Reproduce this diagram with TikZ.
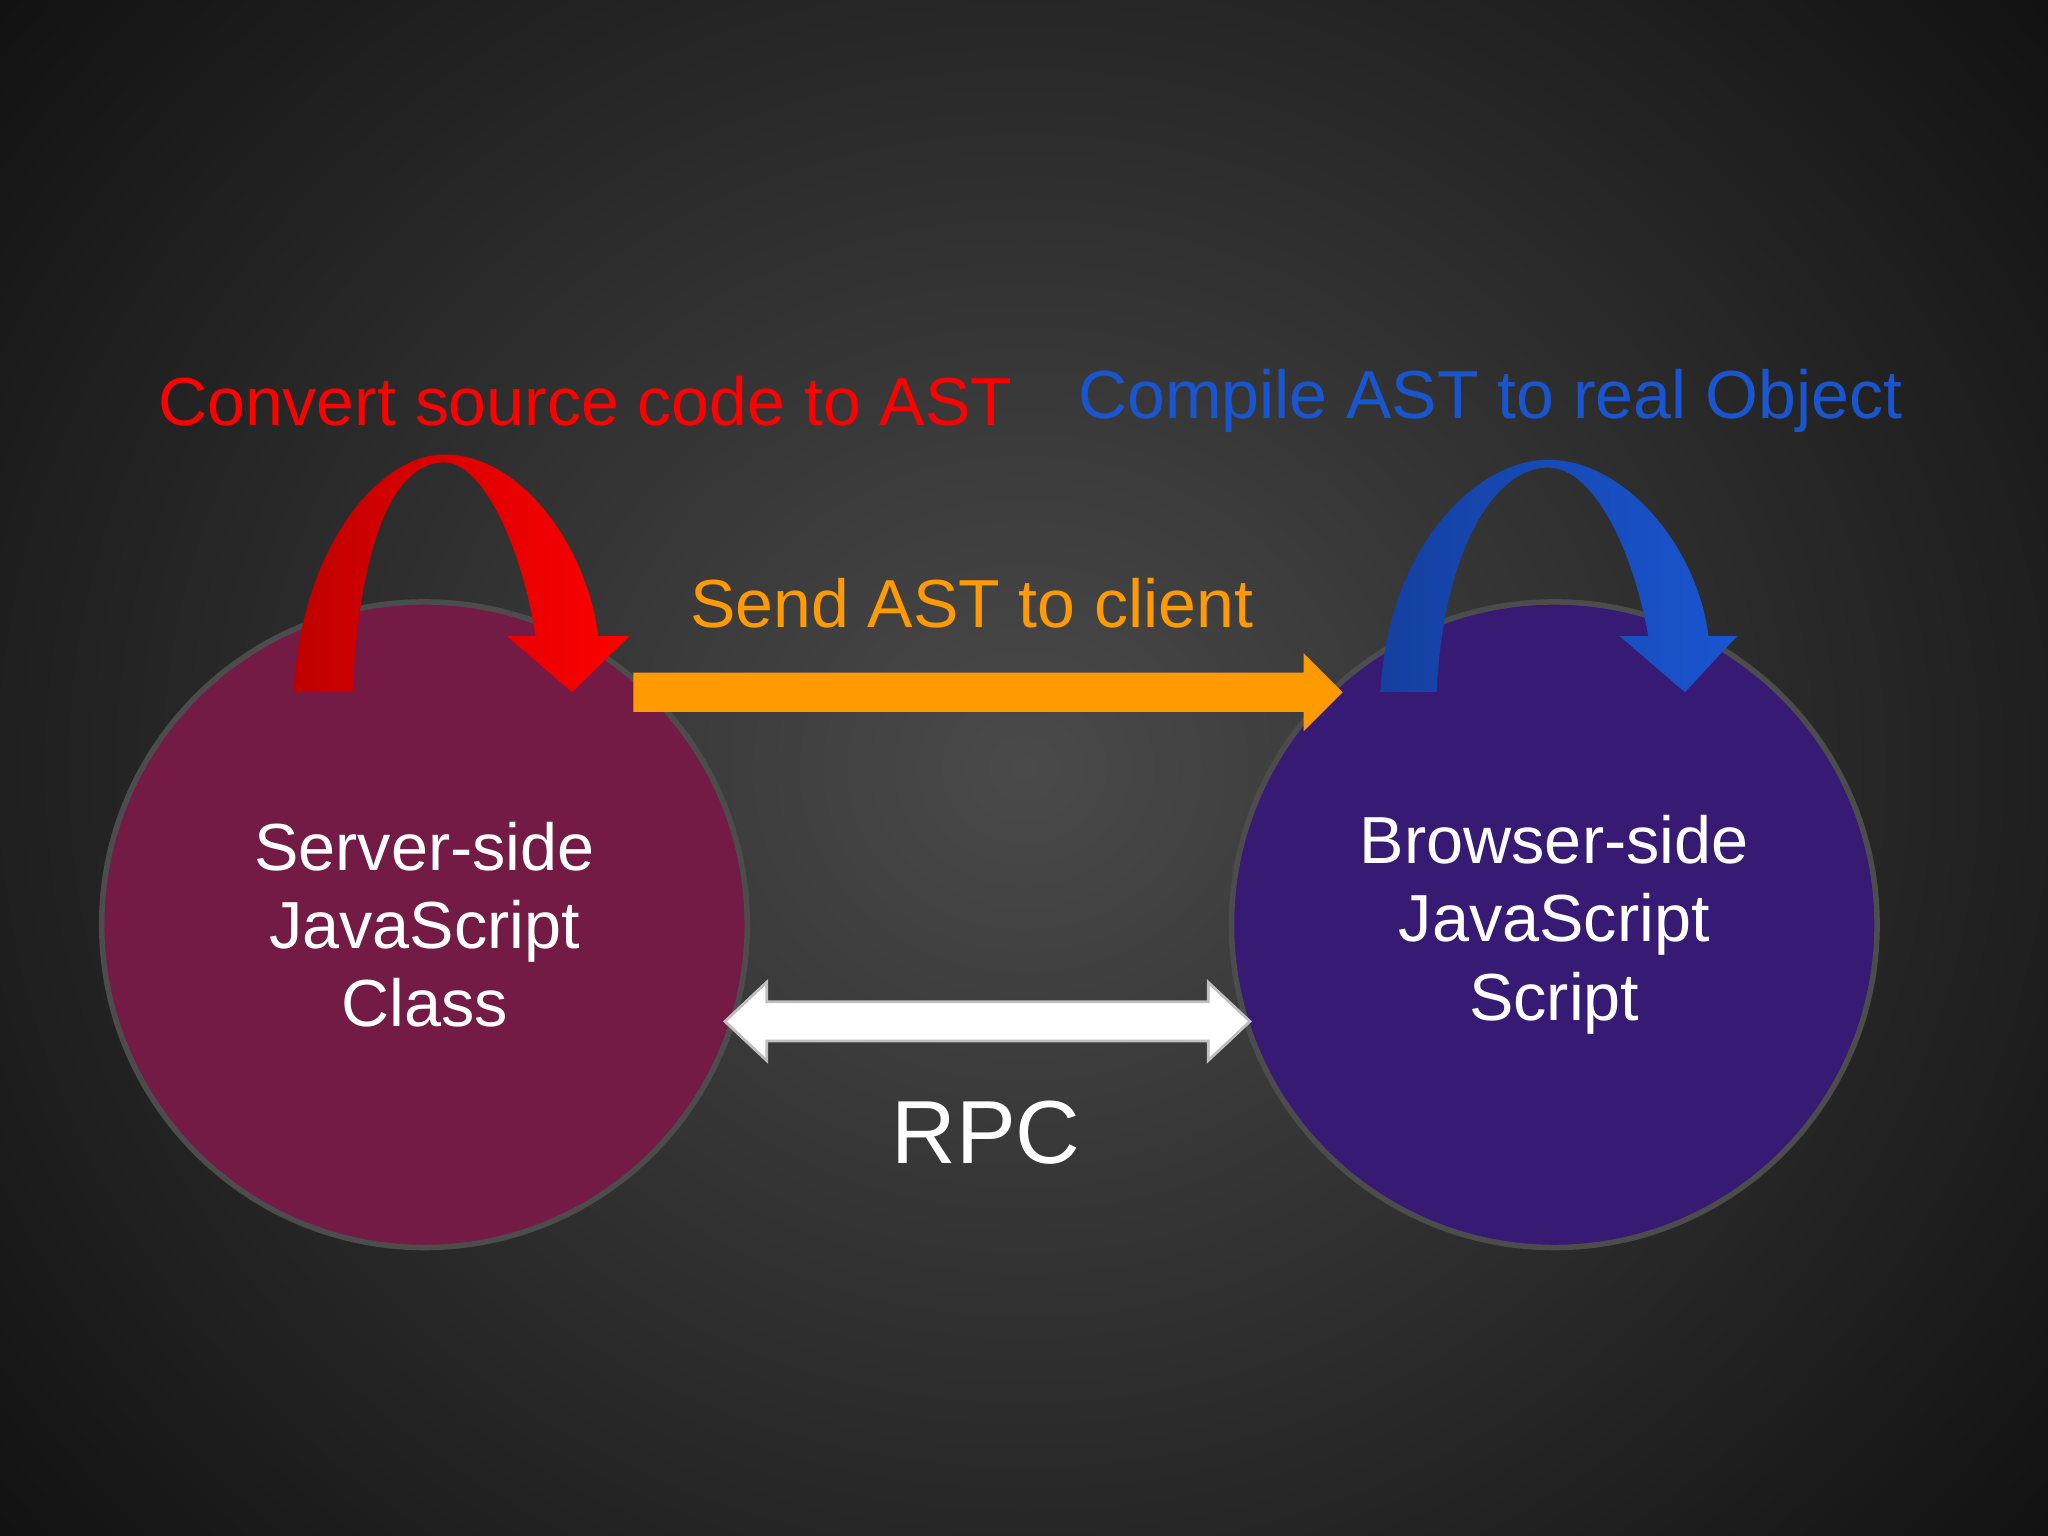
\documentclass[tikz,border=0pt]{standalone}
\usepackage{fontspec}
\setmainfont{Liberation Sans}
\begin{document}
\begin{tikzpicture}[x=0.01cm,y=-0.01cm]
\tikzset{
 circ/.style={circle,draw=gray!60!black,line width=1.2pt,minimum size=4.94cm,inner sep=0pt,text=white,align=center,font=\fontsize{14.5}{17}\selectfont},
 lbl/.style={font=\fontsize{14.8}{17}\selectfont,inner sep=0pt},
}
\definecolor{bgin}{HTML}{4A4A4A}
\definecolor{bgout}{HTML}{0E0E0E}
\definecolor{srv}{HTML}{731A45}
\definecolor{brw}{HTML}{361A73}
\definecolor{org}{HTML}{FF9A00}
\definecolor{blu}{HTML}{1A55D0}
\definecolor{dblu}{HTML}{1440A0}
\useasboundingbox (0,0) rectangle (1568,1176);
\shade[inner color=bgin,outer color=bgout] (-300,-400) rectangle (1868,1576);
\node[circ,fill=srv] (srv) at (325,708) {Server-side\\JavaScript\\Class};
\node[circ,fill=brw] (brw) at (1190,708) {Browser-side\\JavaScript\\Script};
% red curved arrow
\shade[left color=red!75!black,right color=red]
 (225,530) .. controls (230,420) and (290,348) .. (340,348) .. controls (400,348) and (450,420) .. (458,487)
 -- (482,487) -- (438,530) -- (388,487) -- (410,487)
 .. controls (400,420) and (370,354) .. (340,354) .. controls (300,354) and (275,420) .. (270,530) -- cycle;
% blue curved arrow
\shade[left color=dblu,right color=blu]
 (1057,530) .. controls (1062,420) and (1130,352) .. (1185,352) .. controls (1245,352) and (1300,420) .. (1308,487)
 -- (1330,487) -- (1290,530) -- (1240,487) -- (1262,487)
 .. controls (1250,420) and (1220,358) .. (1185,358) .. controls (1145,358) and (1105,420) .. (1100,530) -- cycle;
% orange arrow
\coordinate (oa) at (485,530);
\coordinate (ob) at (1028,530);
\fill[org] (485,515) -- (998,515) -- (998,500) -- (ob) -- (998,560) -- (998,545) -- (485,545) -- cycle;
% white double arrow
\coordinate (wa) at (555,782);
\coordinate (wb) at (957,782);
\fill[white,draw=gray!50,line width=0.6pt] (wa) -- (587,752) -- (587,767) -- (925,767) -- (925,752) -- (wb) -- (925,812) -- (925,797) -- (587,797) -- (587,812) -- cycle;
\node[lbl,text=red] (t1) at (448,307) {Convert source code to AST};
\node[lbl,text=blu] (t2) at (1141,307) {Compile AST to real Object};
\node[lbl,text=org] (t3) at (744,462) {Send AST to client};
\node[font=\fontsize{19.5}{22}\selectfont,text=white,inner sep=0pt] (rpc) at (755,867) {RPC};
\end{tikzpicture}
\end{document}
